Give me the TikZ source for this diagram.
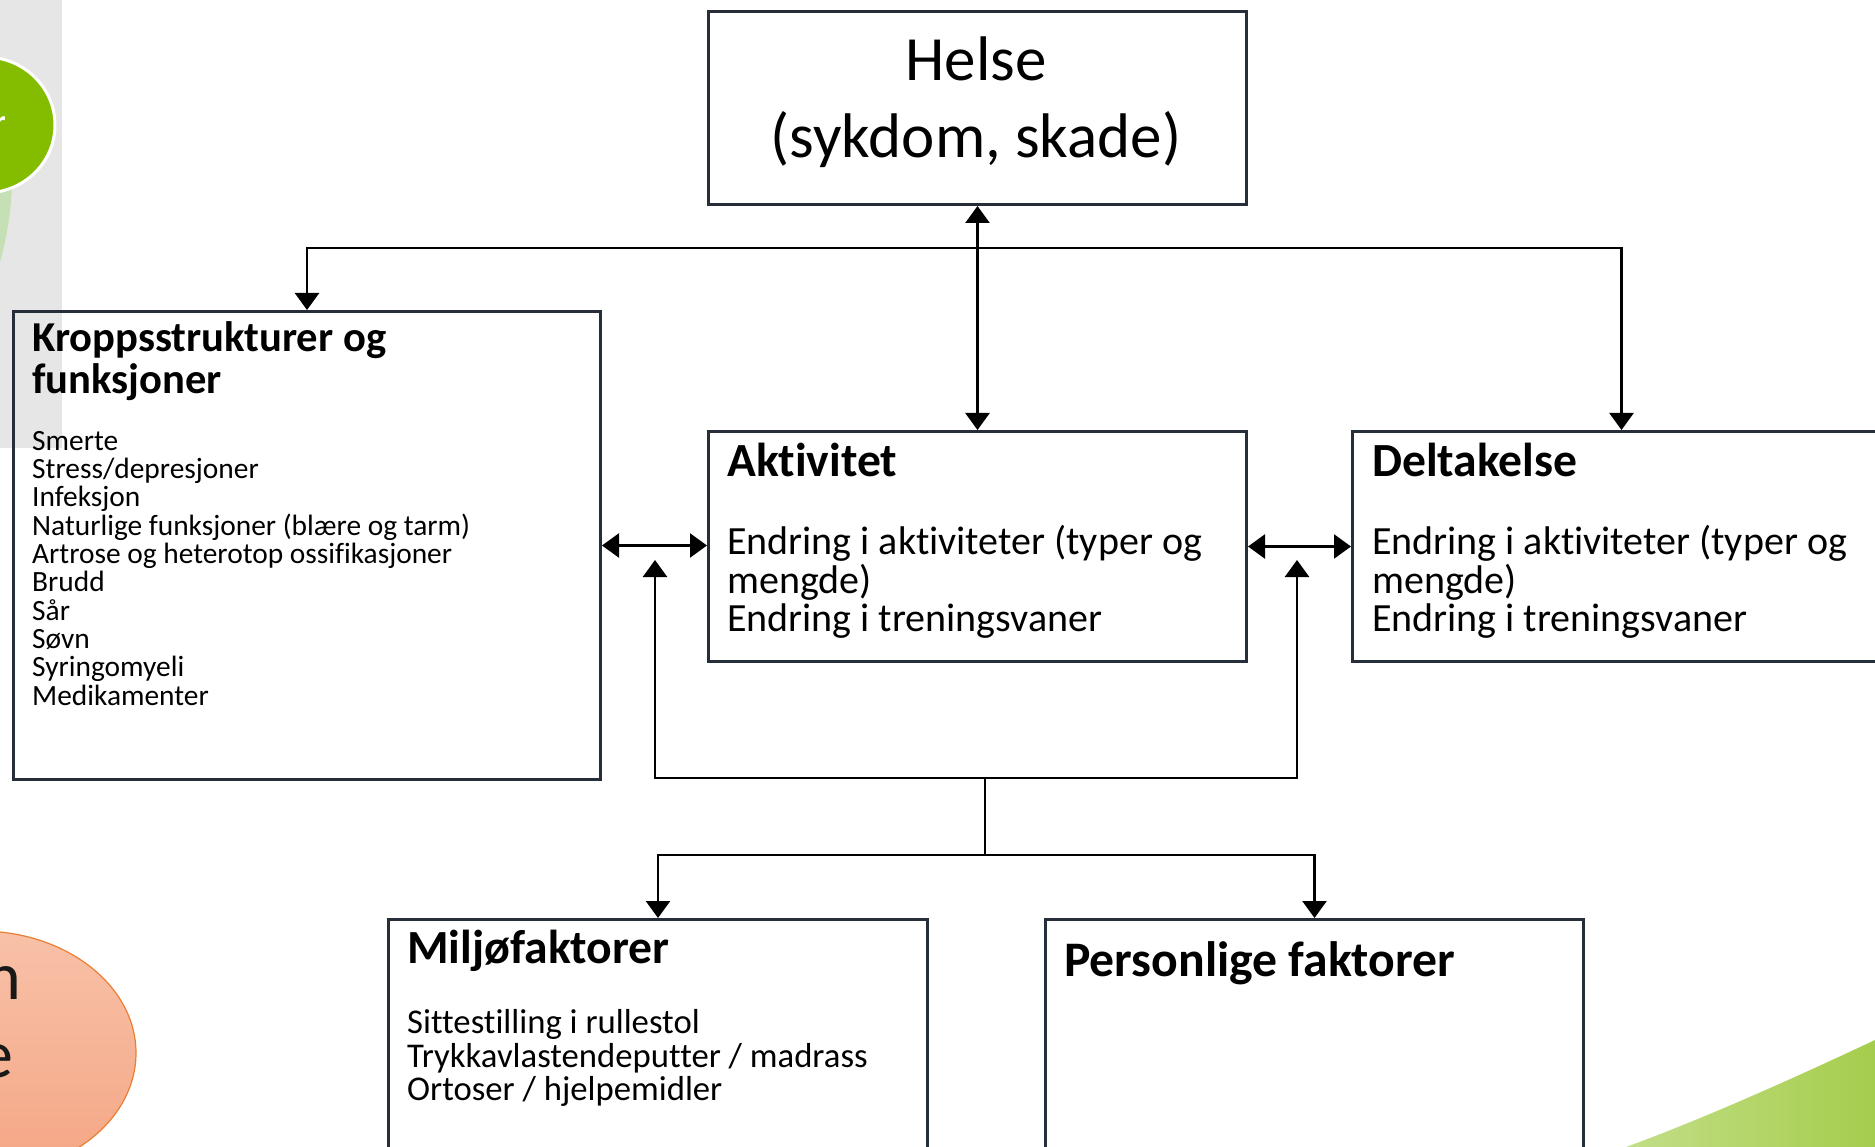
\documentclass[tikz,border=0pt]{standalone}
\usepackage{fontspec}
\setmainfont{Carlito}[Ligatures=NoCommon]
\usepackage{xcolor}
\usepackage{tikz}
\usetikzlibrary{calc,arrows.meta}
\definecolor{frame}{HTML}{262E39}
\definecolor{ink}{HTML}{000000}
\definecolor{greystrip}{HTML}{E6E6E6}
\definecolor{lime}{HTML}{84BD00}
\definecolor{limepale}{HTML}{C5E0B4}
\definecolor{peachtop}{HTML}{F8C1A8}
\definecolor{peachbot}{HTML}{F4A684}
\definecolor{orangeline}{HTML}{ED7D31}
\definecolor{leafa}{HTML}{C3DE88}
\definecolor{leafb}{HTML}{A5CD4C}
\tikzset{
  >={Triangle[length=17pt,width=24pt]},
  box/.style={draw=frame, line width=3pt, rectangle, anchor=north west, inner sep=0pt},
  conn/.style={draw=ink, line width=2.5pt},
  big/.style={font=\fontsize{63}{76.5}\selectfont, inner sep=0pt},
  head/.style={font=\fontsize{47.6}{42}\selectfont\bfseries, anchor=base west, align=left, inner sep=0pt},
  bodys/.style={font=\fontsize{29.4}{28.3}\selectfont, anchor=base west, align=left, inner sep=0pt},
  bodym/.style={font=\fontsize{40}{38.3}\selectfont, anchor=base west, align=left, inner sep=0pt},
  bodyl/.style={font=\fontsize{34.7}{33.5}\selectfont, anchor=base west, align=left, inner sep=0pt},
}

\begin{document}
\begin{tikzpicture}[x=1pt,y=-1pt]
  \clip (0,0) rectangle (1875,1147);
  % background pieces
  \fill[greystrip] (0,0) rectangle (62,448);
  \fill[limepale] (0,185) -- (12,185) .. controls (11,215) and (6,240) .. (0,262) -- cycle;
  \filldraw[fill=lime, draw=white, line width=3pt] (-15,125) ellipse [x radius=70pt, y radius=68pt];
  \node[font=\fontsize{32}{38}\selectfont\bfseries, text=white, anchor=base east, inner sep=0pt] (circletext) at (6,133) {r};
  \shade[top color=peachtop, bottom color=peachbot, draw=orangeline, line width=1.2pt] (-20,1053) ellipse [x radius=156pt, y radius=122pt];
  \node[font=\fontsize{68}{78}\selectfont, text=black!90, anchor=base east, inner sep=0pt] (ovaltop) at (21,999) {n};
  \node[font=\fontsize{68}{78}\selectfont, text=black!90, anchor=base east, inner sep=0pt] (ovalbot) at (14,1077) {e};
  \shade[left color=leafa, right color=leafb] (1626,1147) .. controls (1700,1120) and (1790,1080) .. (1875,1040) -- (1875,1147) -- cycle;

  % boxes
  \node[box, minimum width=538pt, minimum height=193pt] (helse) at (707,10) {};
  \node[box, minimum width=587pt, minimum height=468pt] (kropp) at (12,310) {};
  \node[box, minimum width=538pt, minimum height=230pt] (akt) at (707,430) {};
  \node[box, minimum width=538pt, minimum height=230pt] (delt) at (1351,430) {};
  \node[box, minimum width=539pt, minimum height=260pt] (milj) at (387,918) {};
  \node[box, minimum width=538pt, minimum height=260pt] (pers) at (1044,918) {};

  % texts (base = last line)
  \node[big, align=center, anchor=base] (helsetext) at (976,157.5) {Helse\\(sykdom, skade)};
  \node[head, font=\fontsize{42.6}{42}\selectfont\bfseries] (kropphead) at (32,393.5) {Kroppsstrukturer og\\funksjoner};
  \node[bodys] (kroppbody) at (32,705) {Smerte\\Stress/depresjoner\\Infeksjon\\Naturlige funksjoner (blære og tarm)\\Artrose og heterotop ossifikasjoner\\Brudd\\Sår\\Søvn\\Syringomyeli\\Medikamenter};
  \node[head] (akthead) at (727,476.5) {Aktivitet};
  \node[bodym] (aktbody) at (727,631.5) {Endring i aktiviteter (typer og\\mengde)\\Endring i treningsvaner};
  \node[head] (delthead) at (1372,476.5) {Deltakelse};
  \node[bodym] (deltbody) at (1372,631.5) {Endring i aktiviteter (typer og\\mengde)\\Endring i treningsvaner};
  \node[head] (miljhead) at (407,963.5) {Miljøfaktorer};
  \node[bodyl] (miljbody) at (407,1100.5) {Sittestilling i rullestol\\Trykkavlastendeputter / madrass\\Ortoser / hjelpemidler};
  \node[head, font=\fontsize{49.7}{48}\selectfont\bfseries] (pershead) at (1064,976) {Personlige faktorer};

  % connectors
  \coordinate (topbar) at ($(helse.south)+(0,42)$);
  \draw[conn,<->] (helse.south) -- (akt.north);
  \draw[conn,->] (topbar) -| (kropp.north);
  \draw[conn,->] (topbar) -| (delt.north);
  \draw[conn,<->] (kropp.east) -- (kropp.east -| akt.west);
  \draw[conn,<->] (akt.east) -- (delt.west);
  \coordinate (upL) at (655,560);
  \coordinate (upR) at (1297,560);
  \coordinate (barB) at (985,778);
  \coordinate (barM) at (985,855);
  \draw[conn,->] (barB) -| (upL);
  \draw[conn,->] (barB) -| (upR);
  \draw[conn] (barB) -- (barM);
  \draw[conn,->] (barM) -| (milj.north);
  \draw[conn,->] (barM) -| (pers.north);
\end{tikzpicture}
\end{document}
